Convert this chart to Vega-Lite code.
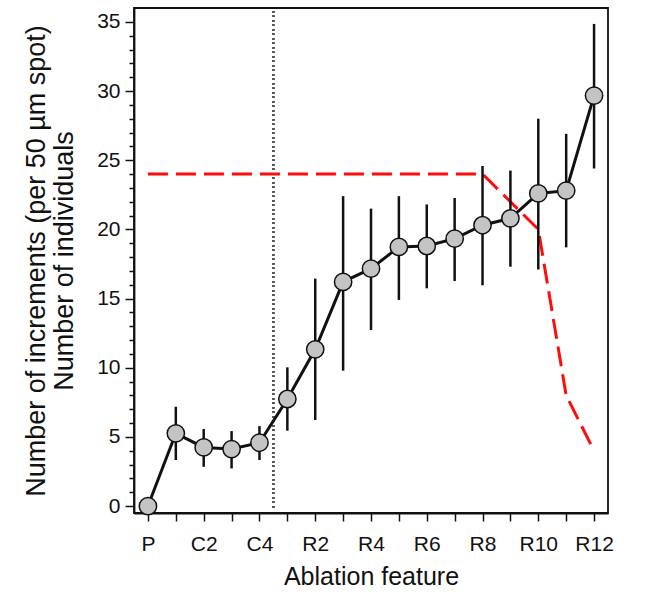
{
  "$schema": "https://vega.github.io/schema/vega-lite/v6.json",
  "autosize": "none",
  "width": 474,
  "height": 505,
  "padding": {"left": 134, "top": 8, "right": 52, "bottom": 87},
  "background": "white",
  "config": {
    "font": "Liberation Sans",
    "view": {"stroke": "#111", "strokeWidth": 1.8},
    "axis": {"grid": false, "domainColor": "#111", "domainWidth": 1.8, "tickColor": "#111", "tickWidth": 1.5, "labelColor": "#111", "titleColor": "#111", "titleFontWeight": "normal", "titleFontSize": 25}
  },
  "data": {
    "values": [
      {"feature": "P", "idx": 0, "mean": 0, "lo": null, "hi": null, "individuals": 24},
      {"feature": "C1", "idx": 1, "mean": 5.26, "lo": 3.33, "hi": 7.18, "individuals": 24},
      {"feature": "C2", "idx": 2, "mean": 4.24, "lo": 2.84, "hi": 5.57, "individuals": 24},
      {"feature": "C3", "idx": 3, "mean": 4.12, "lo": 2.72, "hi": 5.42, "individuals": 24},
      {"feature": "C4", "idx": 4, "mean": 4.58, "lo": 3.33, "hi": 5.78, "individuals": 24},
      {"feature": "R1", "idx": 5, "mean": 7.74, "lo": 5.45, "hi": 10.03, "individuals": 24},
      {"feature": "R2", "idx": 6, "mean": 11.33, "lo": 6.22, "hi": 16.44, "individuals": 24},
      {"feature": "R3", "idx": 7, "mean": 16.2, "lo": 9.79, "hi": 22.4, "individuals": 24},
      {"feature": "R4", "idx": 8, "mean": 17.16, "lo": 12.73, "hi": 21.5, "individuals": 24},
      {"feature": "R5", "idx": 9, "mean": 18.73, "lo": 14.9, "hi": 22.4, "individuals": 24},
      {"feature": "R6", "idx": 10, "mean": 18.8, "lo": 15.74, "hi": 21.8, "individuals": 24},
      {"feature": "R7", "idx": 11, "mean": 19.33, "lo": 16.27, "hi": 22.27, "individuals": 24},
      {"feature": "R8", "idx": 12, "mean": 20.3, "lo": 15.96, "hi": 24.58, "individuals": 24},
      {"feature": "R9", "idx": 13, "mean": 20.8, "lo": 17.3, "hi": 24.25, "individuals": 22},
      {"feature": "R10", "idx": 14, "mean": 22.6, "lo": 17.1, "hi": 28.0, "individuals": 20},
      {"feature": "R11", "idx": 15, "mean": 22.8, "lo": 18.7, "hi": 26.9, "individuals": 8},
      {"feature": "R12", "idx": 16, "mean": 29.67, "lo": 24.4, "hi": 34.85, "individuals": 4}
    ]
  },
  "encoding": {
    "x": {
      "field": "idx", "type": "quantitative",
      "scale": {"domain": [-0.5, 16.5], "nice": false, "zero": false},
      "axis": {
        "title": "Ablation feature",
        "values": [0,1,2,3,4,5,6,7,8,9,10,11,12,13,14,15,16],
        "labelExpr": "['P','','C2','','C4','','R2','','R4','','R6','','R8','','R10','','R12'][datum.value]",
        "tickSize": 8, "labelPadding": 12, "titlePadding": 10, "labelFlush": false, "labelOverlap": false, "labelFontSize": 21
      }
    },
    "y": {
      "field": "mean", "type": "quantitative",
      "scale": {"domain": [-0.5, 36], "nice": false, "zero": false},
      "axis": {
        "title": ["Number of increments (per 50 µm spot)", "Number of individuals"],
        "values": [0,1,2,3,4,5,6,7,8,9,10,11,12,13,14,15,16,17,18,19,20,21,22,23,24,25,26,27,28,29,30,31,32,33,34,35],
        "labelExpr": "datum.value % 5 === 0 ? datum.label : ''",
        "tickSize": {"condition": {"test": "datum.value % 5 === 0", "value": 9}, "value": 5},
        "labelOverlap": false, "labelBound": false, "labelFlush": false,
        "labelPadding": 5, "titlePadding": 18, "titleLineHeight": 28, "labelFontSize": 21, "titleFontSize": 27
      }
    }
  },
  "layer": [
    {
      "mark": {"type": "rule", "strokeDash": [1.5, 3], "strokeWidth": 1.5, "color": "#555"},
      "encoding": {"x": {"datum": 4.5}, "y": {"datum": -0.1}, "y2": {"datum": 36}}
    },
    {
      "mark": {"type": "line", "color": "#ff0d0d", "strokeWidth": 3, "strokeDash": [20, 8]},
      "encoding": {
        "y": {"field": "individuals", "type": "quantitative"}
      }
    },
    {
      "mark": {"type": "rule", "color": "#111", "strokeWidth": 2.5},
      "encoding": {
        "y": {"field": "lo", "type": "quantitative"},
        "y2": {"field": "hi"}
      }
    },
    {
      "mark": {"type": "line", "color": "#111", "strokeWidth": 3},
      "encoding": {}
    },
    {
      "mark": {"type": "point", "shape": "circle", "filled": true, "fill": "#c4c4c4", "stroke": "#111", "strokeWidth": 1.5, "size": 300, "opacity": 1},
      "encoding": {}
    }
  ]
}
